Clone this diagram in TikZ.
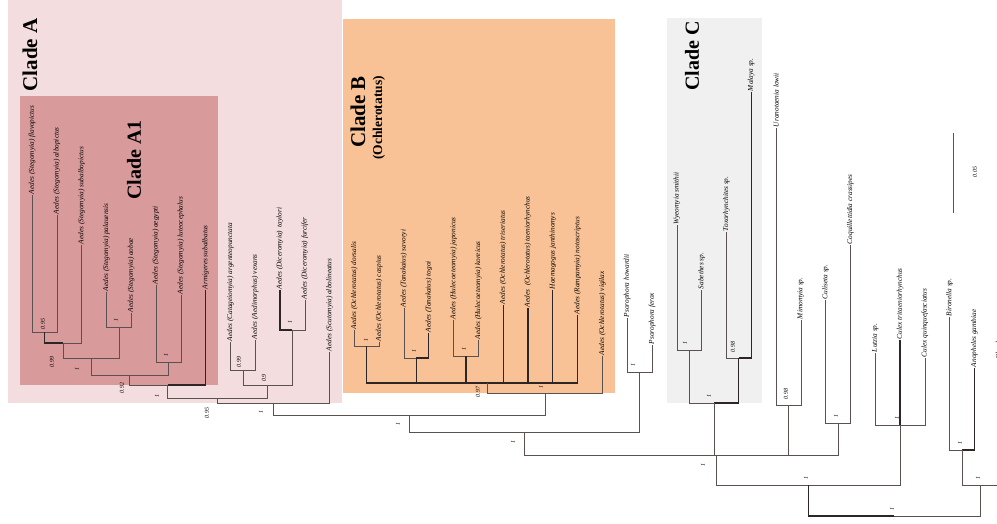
\documentclass[tikz,border=0pt]{standalone}
\usepackage{fontspec}
\setmainfont{Liberation Serif}
\newcommand\tipfont{\fontsize{7.3}{8}\selectfont\itshape}
\newcommand\bsfont{\fontsize{6}{7}\selectfont\itshape}
\newcommand\cladefont{\fontsize{21}{22}\selectfont\bfseries}
\definecolor{cladeApink}{HTML}{F3DDDE}
\definecolor{cladeAonerose}{HTML}{D89A9B}
\definecolor{cladeBorange}{HTML}{F9C296}
\definecolor{cladeCgrey}{HTML}{F0F0F0}
\definecolor{branchgrey}{HTML}{5B5151}
\definecolor{branchdark}{HTML}{2E2626}
\tikzset{
  br/.style={draw=branchgrey, line width=0.6pt},
  thk/.style={draw=branchdark, line width=1.1pt},
  tip/.style={rotate=90, anchor=west, font=\tipfont, inner sep=0.8pt},
  supp/.style={rotate=90, font=\bsfont, inner sep=0pt},
  cladelabel/.style={rotate=90, font=\cladefont, inner sep=0pt},
}
% parent bar -> child (elbow connector)
\newcommand\link[3][br]{\draw[#1] (#2) -| (#3);}
\begin{document}
\begin{tikzpicture}[x=1pt,y=-1pt]
\useasboundingbox (0,0) rectangle (997,523);
\fill[white] (0,0) rectangle (997,523);

% clade shading
\fill[cladeApink] (8,0) rectangle (342,403);
\fill[cladeAonerose] (20,96) rectangle (218,385);
\fill[cladeBorange] (343,19) rectangle (615,393);
\fill[cladeCgrey] (667,18) rectangle (762,403);

% clade titles
\node[cladelabel] (lA) at (30,55) {Clade A};
\node[cladelabel, font=\fontsize{20}{21}\selectfont\bfseries] (lA1) at (134,160) {Clade A1};
\node[cladelabel] (lB) at (358,112) {Clade B};
\node[cladelabel, font=\fontsize{13.5}{14}\selectfont\bfseries] (lBsub) at (379,118) {(Ochlerotatus)};
\node[cladelabel, font=\fontsize{20}{21}\selectfont\bfseries] (lC) at (692,56) {Clade C};

% tips
\node[tip] (t0)  at (32.0,195)  {Aedes (Stegomyia) flavopictus};
\node[tip] (t1)  at (56.8,215)  {Aedes (Stegomyia) albopictus};
\node[tip] (t2)  at (81.6,245)  {Aedes (Stegomyia) subalbopictus};
\node[tip] (t3)  at (106.4,292) {Aedes (Stegomyia) palauensis};
\node[tip] (t4)  at (131.2,313) {Aedes (Stegomyia) aobae};
\node[tip] (t5)  at (156.0,285) {Aedes (Stegomyia) aegypti};
\node[tip] (t6)  at (180.8,295) {Aedes (Stegomyia) luteocephalus};
\node[tip] (t7)  at (205.6,290) {Armigeres subalbatus};
\node[tip] (t8)  at (230.4,342) {Aedes (Catageiomyia) argenteopunctata};
\node[tip] (t9)  at (255.2,340) {Aedes (Aedimorphus) vexans};
\node[tip] (t10) at (280.0,290) {Aedes (Diceromyia) \ taylori};
\node[tip] (t11) at (304.8,300) {Aedes (Diceromyia) furcifer};
\node[tip] (t12) at (329.6,352) {Aedes (Scutomyia) albolineatus};
\node[tip] (t13) at (354.4,330) {Aedes (Ochlerotatus) dorsalis};
\node[tip] (t14) at (379.2,342) {Aedes (Ochlerotatus) caspius};
\node[tip] (t15) at (404.0,308) {Aedes (Tanakaius) savoryi};
\node[tip] (t16) at (428.8,333) {Aedes (Tanakaius) togoi};
\node[tip] (t17) at (453.6,320) {Aedes (Hulecoeteomyia) japonicus};
\node[tip] (t18) at (478.4,340) {Aedes (Hulecoeteomyia) koreicus};
\node[tip] (t19) at (503.2,305) {Aedes (Ochlerotatus) triseriatus};
\node[tip] (t20) at (528.0,308) {Aedes \ (Ochlerotatus) taeniorhynchus};
\node[tip] (t21) at (552.8,290) {Haemagogus janthinomys};
\node[tip] (t22) at (577.6,315) {Aedes (Rampamyia) notoscriptus};
\node[tip] (t23) at (602.4,356) {Aedes (Ochlerotatus) vigilax};
\node[tip] (t24) at (627.2,318) {Psorophora howardii};
\node[tip] (t25) at (652.0,345) {Psorophora ferox};
\node[tip] (t26) at (676.8,225) {Wyeomyia smithii};
\node[tip] (t27) at (701.6,290) {Sabethes sp.};
\node[tip] (t28) at (726.4,232) {Toxorhynchites sp.};
\node[tip] (t29) at (751.2,92)  {Malaya sp.};
\node[tip] (t30) at (776.0,128) {Uranotaenia lowii};
\node[tip] (t31) at (800.8,320) {Mimomyia sp.};
\node[tip] (t32) at (825.6,300) {Culiseta sp.};
\node[tip] (t33) at (850.4,245) {Coquillettidia crassipes};
\node[tip] (t34) at (875.2,353) {Lutzia sp.};
\node[tip] (t35) at (900.0,340) {Culex tritaeniorhynchus};
\node[tip] (t36) at (924.8,358) {Culex quinquefasciatus};
\node[tip] (t37) at (949.6,317) {Bironella sp.};
\node[tip] (t38) at (974.4,368) {Anopheles gambiae};
\node[tip] (t39) at (999.2,360) {Chaoborus sp.};

% internal nodes: (stem x, bar y)
\coordinate (n01)   at (44.4,332);
\coordinate (n012)  at (63.0,343);
\coordinate (n34)   at (118.8,327);
\coordinate (n04)   at (90.9,358);
\coordinate (n56)   at (168.4,362);
\coordinate (n06)   at (129.65,375);
\coordinate (nAone) at (167.6,385);
\coordinate (n89)   at (242.8,370);
\coordinate (n1011) at (292.4,330);
\coordinate (n811)  at (267.6,385);
\coordinate (nAx)   at (217.6,398);
\coordinate (nA)    at (273.6,403);
\coordinate (n1314) at (366.8,346);
\coordinate (n1516) at (416.4,358);
\coordinate (n1718) at (466.0,356);
\coordinate (nBp)   at (487.3,383);
\coordinate (nB)    at (544.85,393);
\coordinate (nAB)   at (409.2,415);
\coordinate (nPs)   at (639.6,372);
\coordinate (nABP)  at (524.4,432);
\coordinate (nWS)   at (689.2,350);
\coordinate (nTM)   at (738.8,358);
\coordinate (nC)    at (714.0,403);
\coordinate (nUM)   at (788.4,405);
\coordinate (nCC)   at (838.0,423);
\coordinate (nPf)   at (716.2,455);
\coordinate (nCx)   at (900.0,425);
\coordinate (nPC)   at (808.1,485);
\coordinate (nBA)   at (962.0,450);
\coordinate (nOG)   at (980.6,485);
\coordinate (root)  at (894.35,516);

% Clade A1
\link{n01}{t0.west} \link{n01}{t1.west}
\link[thk]{n012}{n01} \link{n012}{t2.west}
\link{n34}{t3.west} \link{n34}{t4.west}
\link{n04}{n012} \link{n04}{n34}
\link{n56}{t5.west} \link{n56}{t6.west}
\link{n06}{n04} \link{n06}{n56}
\link{nAone}{n06} \link[thk]{nAone}{t7.west}
% rest of Clade A
\link{n89}{t8.west} \link{n89}{t9.west}
\link[thk]{n1011}{t10.west} \link{n1011}{t11.west}
\link{n811}{n89} \link{n811}{n1011}
\link{nAx}{nAone} \link{nAx}{n811}
\link{nA}{nAx} \link{nA}{t12.west}
% Clade B
\link{n1314}{t13.west} \link{n1314}{t14.west}
\link{n1516}{t15.west} \link[thk]{n1516}{t16.west}
\link{n1718}{t17.west} \link{n1718}{t18.west}
\foreach \c in {n1314,n1516,n1718,t19.west,t20.west,t21.west,t22.west}{\link[thk]{nBp}{\c}}
\link{nB}{nBp} \link{nB}{t23.west}
\link{nAB}{nA} \link{nAB}{nB}
% Psorophora
\link{nPs}{t24.west} \link{nPs}{t25.west}
\link{nABP}{nAB} \link{nABP}{nPs}
% Clade C
\link{nWS}{t26.west} \link{nWS}{t27.west}
\link{nTM}{t28.west} \link[thk]{nTM}{t29.west}
\link{nC}{nWS} \link[thk]{nC}{nTM}
% remaining Culicidae
\link{nUM}{t30.west} \link{nUM}{t31.west}
\link{nCC}{t32.west} \link{nCC}{t33.west}
\foreach \c in {nABP,nC,nUM,nCC}{\link{nPf}{\c}}
\link{nCx}{t34.west} \link[thk]{nCx}{t35.west} \link{nCx}{t36.west}
\link{nPC}{nPf} \link{nPC}{nCx}
\link{nBA}{t37.west} \link[thk]{nBA}{t38.west}
\link{nOG}{nBA} \link{nOG}{t39.west}
\link[thk]{root}{nPC} \link{root}{nOG}

% support values
\node[supp] (s1)  at (43,324)  {0.95};
\node[supp] (s2)  at (52,362)  {0.99};
\node[supp] (s3)  at (77,369)  {1};
\node[supp] (s4)  at (116,320) {1};
\node[supp] (s5)  at (166,355) {1};
\node[supp] (s6)  at (122,388) {0.92};
\node[supp] (s7)  at (157,396) {1};
\node[supp] (s8)  at (239,362) {0.99};
\node[supp] (s9)  at (290,322) {1};
\node[supp] (s10) at (264,378) {0.9};
\node[supp] (s11) at (207,413) {0.95};
\node[supp] (s12) at (261,412) {1};
\node[supp] (s13) at (366,340) {1};
\node[supp] (s14) at (414,351) {1};
\node[supp] (s15) at (464,349) {1};
\node[supp] (s16) at (478,392) {0.97};
\node[supp] (s17) at (541,387) {1};
\node[supp] (s18) at (398,424) {1};
\node[supp] (s19) at (513,442) {1};
\node[supp] (s20) at (633,365) {1};
\node[supp] (s21) at (685,343) {1};
\node[supp] (s22) at (733,347) {0.98};
\node[supp] (s23) at (709,396) {1};
\node[supp] (s24) at (786,394) {0.98};
\node[supp] (s25) at (703,465) {1};
\node[supp] (s26) at (836,416) {1};
\node[supp] (s27) at (897,418) {1};
\node[supp] (s28) at (806,478) {1};
\node[supp] (s29) at (960,443) {1};
\node[supp] (s30) at (978,478) {1};
\node[supp] (s31) at (892,509) {1};

% scale bar
\coordinate (sbTop) at (953,133);
\coordinate (sbBot) at (953,213);
\draw[br] (sbTop) -- (sbBot);
\node[supp] (sbLabel) at (975,172) {0.05};
\end{tikzpicture}
\end{document}
